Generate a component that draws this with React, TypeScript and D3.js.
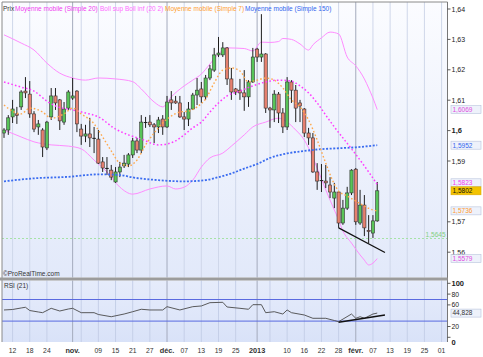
import React from 'react';
import * as d3 from 'd3';

// ---------- DATA ----------
const START_DATE = '2012-10-10';
const SLOT_COUNT = 104;

const opens = [1.5992,1.6002,1.6045,1.6055,1.6078,1.6130,1.6120,1.6055,1.6012,1.6002,1.5943,1.6045,1.6114,1.6101,1.6028,1.6074,1.6107,1.6130,1.6005,1.5982,1.5989,1.5976,1.5972,1.5897,1.5877,1.5870,1.5831,1.5864,1.5884,1.5890,1.5920,1.5966,1.5936,1.6028,1.6028,1.6019,1.6012,1.6038,1.6012,1.6101,1.6097,1.6091,1.6045,1.6038,1.6071,1.6117,1.6137,1.6111,1.6173,1.6199,1.6249,1.6249,1.6272,1.6170,1.6137,1.6133,1.6124,1.6111,1.6160,1.6268,1.6242,1.6252,1.6074,1.6068,1.6120,1.6058,1.6012,1.6160,1.6133,1.6091,1.6071,1.5992,1.5976,1.5864,1.5834,1.5834,1.5821,1.5778,1.5798,1.5696,1.5745,1.5795,1.5873,1.5696,1.5755,1.5672,1.5663,1.5703];
const highs = [1.6008,1.6051,1.6101,1.6078,1.6133,1.6176,1.6163,1.6064,1.6035,1.6008,1.6032,1.6140,1.6140,1.6104,1.6094,1.6133,1.6173,1.6133,1.6022,1.6019,1.6042,1.6012,1.6002,1.5913,1.5913,1.5887,1.5880,1.5897,1.5920,1.5926,1.5976,1.5976,1.6051,1.6045,1.6051,1.6025,1.6045,1.6051,1.6114,1.6130,1.6114,1.6114,1.6061,1.6094,1.6124,1.6173,1.6160,1.6183,1.6216,1.6272,1.6308,1.6291,1.6275,1.6206,1.6140,1.6170,1.6199,1.6166,1.6272,1.6272,1.6383,1.6255,1.6078,1.6133,1.6127,1.6074,1.6176,1.6166,1.6150,1.6101,1.6074,1.6009,1.5992,1.5893,1.5890,1.5887,1.5847,1.5828,1.5801,1.5772,1.5815,1.5873,1.5877,1.5805,1.5788,1.5722,1.5722,1.5831];
const lows = [1.5976,1.5986,1.6025,1.6022,1.6068,1.6107,1.6042,1.5995,1.5986,1.5913,1.5936,1.6035,1.6068,1.6002,1.6019,1.6068,1.6101,1.5995,1.5953,1.5962,1.5946,1.5926,1.5890,1.5864,1.5854,1.5837,1.5828,1.5847,1.5877,1.5880,1.5910,1.5926,1.5926,1.6009,1.6012,1.5959,1.5992,1.5986,1.6009,1.6068,1.6088,1.6042,1.6002,1.6015,1.6068,1.6084,1.6091,1.6101,1.6166,1.6193,1.6242,1.6242,1.6150,1.6101,1.6117,1.6101,1.6065,1.6078,1.6157,1.6226,1.6226,1.6058,1.6009,1.6028,1.6025,1.5992,1.6002,1.6091,1.6028,1.6028,1.5979,1.5953,1.5861,1.5805,1.5798,1.5811,1.5778,1.5745,1.5680,1.5690,1.5739,1.5788,1.5690,1.5690,1.5653,1.5630,1.5647,1.5700];
const closes = [1.6002,1.6042,1.6071,1.6050,1.6127,1.6124,1.6055,1.6005,1.6022,1.5946,1.6028,1.6114,1.6091,1.6032,1.6071,1.6127,1.6114,1.6022,1.5982,1.5989,1.5976,1.5973,1.5893,1.5877,1.5874,1.5847,1.5864,1.5880,1.5893,1.5920,1.5966,1.5936,1.6028,1.6025,1.6019,1.6012,1.6035,1.6012,1.6094,1.6091,1.6091,1.6045,1.6038,1.6071,1.6117,1.6133,1.6111,1.6173,1.6203,1.6249,1.6255,1.6272,1.6170,1.6127,1.6127,1.6124,1.6111,1.6160,1.6242,1.6242,1.6252,1.6074,1.6068,1.6120,1.6058,1.6012,1.6160,1.6133,1.6074,1.6081,1.5992,1.5976,1.5864,1.5834,1.5837,1.5828,1.5798,1.5798,1.5696,1.5745,1.5795,1.5870,1.5700,1.5755,1.5680,1.5668,1.5703,1.5802];

// indicator readings: [candle index, value]
const sma20: [number, number][] = [[0,1.6160],[4,1.6143],[7,1.6130],[10,1.6097],[12,1.6081],[16,1.6068],[19,1.6058],[22,1.6045],[26,1.6005],[29,1.5986],[32,1.5972],[36,1.5953],[38,1.5956],[40,1.5966],[42,1.5986],[44,1.6009],[46,1.6028],[48,1.6061],[50,1.6091],[52,1.6114],[55,1.6130],[58,1.6147],[61,1.6160],[64,1.6166],[67,1.6163],[69,1.6147],[71,1.6124],[73,1.6091],[75,1.6051],[77,1.6012],[79,1.5976],[81,1.5940],[83,1.5903],[85,1.5864],[87,1.5823]];
const bollUpper: [number, number][] = [[0,1.6315],[4,1.6288],[7,1.6265],[10,1.6222],[13,1.6189],[16,1.6173],[19,1.6166],[22,1.6173],[26,1.6170],[30,1.6161],[32,1.6137],[35,1.6094],[37,1.6078],[39,1.6111],[42,1.6147],[44,1.6166],[46,1.6186],[48,1.6219],[50,1.6252],[52,1.6272],[56,1.6270],[58,1.6262],[60,1.6291],[62,1.6290],[64,1.6293],[65,1.6303],[67,1.6300],[69,1.6285],[71,1.6265],[72,1.6282],[74,1.6305],[76,1.6324],[78,1.6318],[80,1.6242],[82,1.6213],[84,1.6170],[85,1.6140],[86,1.6107],[87,1.6069]];
const bollLower: [number, number][] = [[0,1.6002],[4,1.5979],[7,1.5963],[11,1.5953],[15,1.5949],[18,1.5940],[21,1.5903],[24,1.5864],[27,1.5814],[30,1.5791],[34,1.5808],[38,1.5818],[40,1.5808],[42,1.5814],[44,1.5837],[46,1.5880],[48,1.5910],[51,1.5926],[53,1.5949],[56,1.5986],[58,1.6012],[61,1.6028],[64,1.6041],[66,1.6028],[68,1.6002],[70,1.5969],[71,1.5943],[73,1.5877],[75,1.5805],[77,1.5739],[78,1.5706],[79,1.5670],[81,1.5630],[83,1.5591],[84,1.5574],[85,1.5558],[86,1.5564],[87,1.5579]];
const sma7: [number, number][] = [[0,1.6084],[2,1.6064],[4,1.6055],[6,1.6074],[9,1.6061],[11,1.6041],[14,1.6055],[16,1.6074],[18,1.6055],[21,1.6022],[23,1.5979],[25,1.5933],[27,1.5893],[29,1.5884],[31,1.5903],[33,1.5953],[35,1.5992],[37,1.6025],[39,1.6048],[41,1.6061],[43,1.6064],[45,1.6078],[47,1.6104],[49,1.6157],[51,1.6199],[53,1.6206],[55,1.6196],[57,1.6160],[59,1.6166],[61,1.6173],[63,1.6166],[65,1.6140],[67,1.6101],[69,1.6078],[71,1.6035],[73,1.5969],[75,1.5893],[77,1.5824],[78,1.5801],[80,1.5785],[82,1.5768],[84,1.5752],[86,1.5739],[87,1.5736]];
const sma150: [number, number][] = [[0,1.5833],[7,1.5843],[15,1.5848],[22,1.5856],[27,1.5854],[30,1.5846],[36,1.5837],[42,1.5833],[47,1.5837],[50,1.5847],[53,1.5859],[56,1.5875],[59,1.5890],[62,1.5910],[66,1.5925],[70,1.5933],[74,1.5939],[78,1.5942],[82,1.5945],[87,1.5952]];
const rsi21: [number, number][] = [[0,50.6],[2,51.5],[4,54.3],[5,55.6],[6,49.6],[8,46.9],[9,45.6],[11,53.7],[13,48.7],[15,52.4],[16,53.7],[18,45.6],[21,45.6],[22,42.2],[25,38.1],[28,43.1],[30,47.4],[32,51.9],[34,50.6],[37,50.6],[38,56.7],[41,50.6],[44,56.7],[46,58],[48,64.1],[51,64.8],[52,56.1],[55,53.7],[57,51.9],[58,60.4],[60,60.4],[61,45.6],[63,47.4],[65,43.1],[66,50.6],[67,45.6],[70,41.3],[72,35.2],[75,35.2],[77,31.1],[78,28.9],[81,43.1],[82,35.2],[83,38.1],[84,35.2],[86,43.1],[87,44.828]];
const priceTrend: [number, number][] = [[78,1.5680],[88.8,1.5599]];
const rsiTrend: [number, number][] = [[78,27.8],[88.8,41.2]];
const supportLevel = 1.5645;

const priceTicks = [1.56,1.57,1.58,1.59,1.60,1.61,1.62,1.63,1.64];
const rsiTicks = [0,20,40,60,80,100];
const rsiLevels = [30,70];

const dateTicks = [
  { date: '2012-10-12', label: '12', major: false },
  { date: '2012-10-18', label: '18', major: false },
  { date: '2012-10-24', label: '24', major: false },
  { date: '2012-11-01', label: 'nov.', major: true },
  { date: '2012-11-03', label: '', major: false },
  { date: '2012-11-09', label: '09', major: false },
  { date: '2012-11-15', label: '15', major: false },
  { date: '2012-11-21', label: '21', major: false },
  { date: '2012-11-27', label: '27', major: false },
  { date: '2012-12-01', label: 'déc.', major: true },
  { date: '2012-12-07', label: '07', major: false },
  { date: '2012-12-13', label: '13', major: false },
  { date: '2012-12-19', label: '19', major: false },
  { date: '2012-12-25', label: '25', major: false },
  { date: '2013-01-01', label: '2013', major: true },
  { date: '2013-01-04', label: '', major: false },
  { date: '2013-01-10', label: '10', major: false },
  { date: '2013-01-16', label: '16', major: false },
  { date: '2013-01-22', label: '22', major: false },
  { date: '2013-01-28', label: '28', major: false },
  { date: '2013-02-01', label: 'févr.', major: true },
  { date: '2013-02-07', label: '07', major: false },
  { date: '2013-02-13', label: '13', major: false },
  { date: '2013-02-19', label: '19', major: false },
  { date: '2013-02-25', label: '25', major: false },
  { date: '2013-03-01', label: '01', major: false },
];

const legendItems = [
  { text: 'Prix', color: '#333333' },
  { text: 'Moyenne mobile (Simple 20)', color: '#f03cf0' },
  { text: 'Boll sup Boll inf (20 2)', color: '#ff6cff' },
  { text: 'Moyenne mobile (Simple 7)', color: '#ffa030' },
  { text: 'Moyenne mobile (Simple 150)', color: '#3366ee' },
];

// ---------- HELPERS ----------
function tradingCalendar(start: string, n: number): Date[] {
  const out: Date[] = [];
  const d = new Date(start + 'T00:00:00Z');
  while (out.length < n) {
    const wd = d.getUTCDay();
    if (wd !== 0 && wd !== 6) out.push(new Date(d.getTime()));
    d.setUTCDate(d.getUTCDate() + 1);
  }
  return out;
}
const calendar = tradingCalendar(START_DATE, SLOT_COUNT);
function slotOf(dateStr: string): number {
  const t = new Date(dateStr + 'T00:00:00Z').getTime();
  return calendar.findIndex(d => d.getTime() >= t);
}
const fmtFr = (v: number, dec: number) => d3.format(`.${dec}f`)(v).replace('.', ',');
const trimFr = (v: number) => String(+v.toFixed(2)).replace('.', ',');

// ---------- LAYOUT ----------
const W = 483, H = 357;
const plotL = 2, plotR = 447.5;
const priceTop = 2, priceBot = 277.5;
const rsiTop = 280.5, rsiBot = 342;
const FONT = '"Liberation Sans", Arial, sans-serif';

export default function App() {
  const x = d3.scaleLinear().domain([0, 103]).range([4, 4 + 103 * 4.29]);
  const y = d3.scaleLinear().domain([1.56, 1.64]).range([252.2, 9]);
  const yr = d3.scaleLinear().domain([0, 100]).range([337.3, 283.3]);

  const smooth = d3.line<[number, number]>().x(d => x(d[0])).y(d => y(d[1])).curve(d3.curveMonotoneX);
  const straight = d3.line<[number, number]>().x(d => x(d[0])).y(d => y(d[1]));
  const rsiLine = d3.line<[number, number]>().x(d => x(d[0])).y(d => yr(d[1]));

  const last = closes.length - 1;
  const boxes = [
    { v: bollUpper[bollUpper.length - 1][1], color: '#e04ce0', bg: '#eef2fb' },
    { v: sma150[sma150.length - 1][1], color: '#3366ee', bg: '#eef2fb' },
    { v: sma20[sma20.length - 1][1], color: '#f03cf0', bg: '#eef2fb' },
    { v: closes[last], color: '#111111', bg: '#f3c300' },
    { v: sma7[sma7.length - 1][1], color: '#ff9a30', bg: '#eef2fb' },
    { v: bollLower[bollLower.length - 1][1], color: '#e04ce0', bg: '#eef2fb' },
  ].map(b => ({ ...b, yy: y(b.v) }));
  // resolve overlaps (push upward)
  const sorted = [...boxes].sort((a, b) => b.yy - a.yy);
  for (let i = 1; i < sorted.length; i++) {
    if (sorted[i - 1].yy - sorted[i].yy < 8) sorted[i].yy = sorted[i - 1].yy - 8;
  }
  const boxH = 8;
  const visiblePriceTicks = priceTicks.filter(t => boxes.every(b => Math.abs(y(t) - b.yy) > 5));
  const rsiLast = rsi21[rsi21.length - 1][1];
  const visibleRsiTicks = rsiTicks.filter(t => Math.abs(yr(t) - yr(rsiLast)) > 5);

  const grid = dateTicks.map(t => ({ ...t, i: slotOf(t.date) }));

  let lx = 3;
  const legendPos = legendItems.map((it, k) => {
    const pos = lx;
    lx += it.text.length * 3.15 + (k === 0 ? 1 : 3);
    return { ...it, pos };
  });
  legendPos[1].pos = 15; legendPos[2].pos = 100; legendPos[3].pos = 165; legendPos[4].pos = 245;

  return (
    <svg width={W} height={H} style={{ position: 'absolute', left: 0, top: 0, background: '#fff' }} fontFamily={FONT}>
      <defs>
        <linearGradient id="pg" x1="0" y1="0" x2="0" y2="1">
          <stop offset="0" stopColor="#fbfcff" />
          <stop offset="1" stopColor="#e2e9fa" />
        </linearGradient>
        <linearGradient id="rg" x1="0" y1="0" x2="0" y2="1">
          <stop offset="0" stopColor="#e6ecfb" />
          <stop offset="1" stopColor="#d9e2f8" />
        </linearGradient>
        <clipPath id="pc"><rect x={plotL} y={priceTop} width={plotR - plotL} height={priceBot - priceTop} /></clipPath>
        <clipPath id="rc"><rect x={plotL} y={rsiTop} width={plotR - plotL} height={rsiBot - rsiTop} /></clipPath>
      </defs>
      <rect x={plotL} y={priceTop} width={plotR - plotL} height={priceBot - priceTop} fill="url(#pg)" />
      <rect x={plotL} y={rsiTop} width={plotR - plotL} height={rsiBot - rsiTop} fill="url(#rg)" />

      {/* vertical grid */}
      {grid.map((g, k) => (
        <g key={k}>
          <line x1={x(g.i)} x2={x(g.i)} y1={priceTop} y2={priceBot} stroke={g.major ? '#a4abbd' : '#cfd7ea'} strokeWidth={1} />
          <line x1={x(g.i)} x2={x(g.i)} y1={rsiTop} y2={rsiBot} stroke={g.major ? '#a4abbd' : '#c5cfe8'} strokeWidth={1} />
        </g>
      ))}

      {/* price panel */}
      <g clipPath="url(#pc)">
        <line x1={plotL} x2={plotR} y1={y(supportLevel)} y2={y(supportLevel)} stroke="#a6e3a6" strokeWidth={1.2} strokeDasharray="2,2" />
        <path d={smooth(bollUpper) || ''} fill="none" stroke="#ff8cff" strokeWidth={1} />
        <path d={smooth(bollLower) || ''} fill="none" stroke="#ff8cff" strokeWidth={1} />
        {closes.map((c, i) => {
          const o = opens[i];
          const up = c >= o;
          const top = y(Math.max(o, c));
          const bot = y(Math.min(o, c));
          const cx = x(i);
          return (
            <g key={i}>
              <line x1={cx} x2={cx} y1={y(highs[i])} y2={y(lows[i])} stroke="#1e1e1e" strokeWidth={1} />
              {bot - top < 1.2 ? (
                <line x1={cx - 1.8} x2={cx + 1.8} y1={(top + bot) / 2} y2={(top + bot) / 2} stroke="#1e1e1e" strokeWidth={1} />
              ) : (
                <rect x={cx - 1.6} y={top} width={3.2} height={bot - top} fill={up ? '#58c458' : '#e6806f'} stroke="#333" strokeWidth={0.6} />
              )}
            </g>
          );
        })}
        <path d={smooth(sma150) || ''} fill="none" stroke="#3a6cf0" strokeWidth={1.8} strokeDasharray="2,1.6" />
        <path d={smooth(sma20) || ''} fill="none" stroke="#ff3cff" strokeWidth={1.5} strokeDasharray="1.6,2.2" />
        <path d={smooth(sma7) || ''} fill="none" stroke="#ffa84a" strokeWidth={1.4} strokeDasharray="1.6,2.2" />
        <path d={straight(priceTrend) || ''} fill="none" stroke="#111" strokeWidth={1.2} />
      </g>
      <text x={plotR - 2} y={y(supportLevel) - 2} textAnchor="end" fontSize={6.5} fill="#7fd07f">{fmtFr(supportLevel, 4)}</text>

      {/* RSI panel */}
      <g clipPath="url(#rc)">
        {rsiLevels.map(l => (
          <line key={l} x1={plotL} x2={plotR} y1={yr(l)} y2={yr(l)} stroke="#5a6ae0" strokeWidth={1} />
        ))}
        <path d={rsiLine(rsi21) || ''} fill="none" stroke="#4a4a4a" strokeWidth={0.9} />
        <path d={rsiLine(rsiTrend) || ''} fill="none" stroke="#111" strokeWidth={1.4} />
      </g>

      {/* frames */}
      <line x1={plotL} x2={plotR} y1={priceTop} y2={priceTop} stroke="#8a8a8a" strokeWidth={1} />
      <line x1={plotL} x2={plotL} y1={priceTop} y2={rsiBot} stroke="#8a8a8a" strokeWidth={1} />
      <line x1={plotR} x2={plotR} y1={priceTop} y2={rsiBot} stroke="#777" strokeWidth={1} />
      <rect x={0} y={priceBot} width={plotR} height={rsiTop - priceBot} fill="#9c9c9c" />

      {/* legend */}
      {legendPos.map((it, k) => (
        <text key={k} x={it.pos} y={11} fontSize={6.5} fill={it.color}>{it.text}</text>
      ))}
      <text x={3} y={276} fontSize={6.5} fill="#333">©ProRealTime.com</text>
      <text x={4} y={287.5} fontSize={6.5} fill="#333">RSI (21)</text>

      {/* price axis */}
      {visiblePriceTicks.map(t => {
        const bold = Math.abs(t * 10 - Math.round(t * 10)) < 1e-9;
        return (
          <g key={t}>
            <line x1={plotR} x2={plotR + 3} y1={y(t)} y2={y(t)} stroke="#333" strokeWidth={0.8} />
            <text x={plotR + 4} y={y(t) + 2.5} fontSize={bold ? 7.5 : 7} fontWeight={bold ? 'bold' : 'normal'} fill="#222">{trimFr(t)}</text>
          </g>
        );
      })}
      {boxes.map((b, k) => (
        <g key={k}>
          <rect x={plotR + 3.5} y={b.yy - boxH / 2} width={30} height={boxH} fill={b.bg} stroke={b.bg === '#f3c300' ? '#d9a800' : '#b8c3dc'} strokeWidth={0.6} />
          <text x={plotR + 5} y={b.yy + 2.4} fontSize={6.5} fill={b.color}>{fmtFr(b.v, 4)}</text>
        </g>
      ))}

      {/* RSI axis */}
      {visibleRsiTicks.map(t => {
        const bold = t === 0 || t === 100;
        const yy = t === 0 ? yr(t) + 5 : yr(t);
        return (
          <g key={t}>
            <line x1={plotR} x2={plotR + 3} y1={yr(t)} y2={yr(t)} stroke="#333" strokeWidth={0.8} />
            <text x={plotR + 4} y={yy + 2.5} fontSize={bold ? 7.5 : 6.8} fontWeight={bold ? 'bold' : 'normal'} fill="#222">{t}</text>
          </g>
        );
      })}
      <rect x={plotR + 3.5} y={yr(rsiLast) - boxH / 2} width={30} height={boxH} fill="#eef2fb" stroke="#b8c3dc" strokeWidth={0.6} />
      <text x={plotR + 5} y={yr(rsiLast) + 2.4} fontSize={6.5} fill="#333">{fmtFr(rsiLast, 3)}</text>

      {/* date axis */}
      {grid.filter(g => g.label).map((g, k) => (
        <text key={k} x={x(g.i)} y={352.5} textAnchor="middle" fontSize={g.major ? 7.3 : 6.8} fontWeight={g.major ? 'bold' : 'normal'} fill="#333">{g.label}</text>
      ))}
    </svg>
  );
}
